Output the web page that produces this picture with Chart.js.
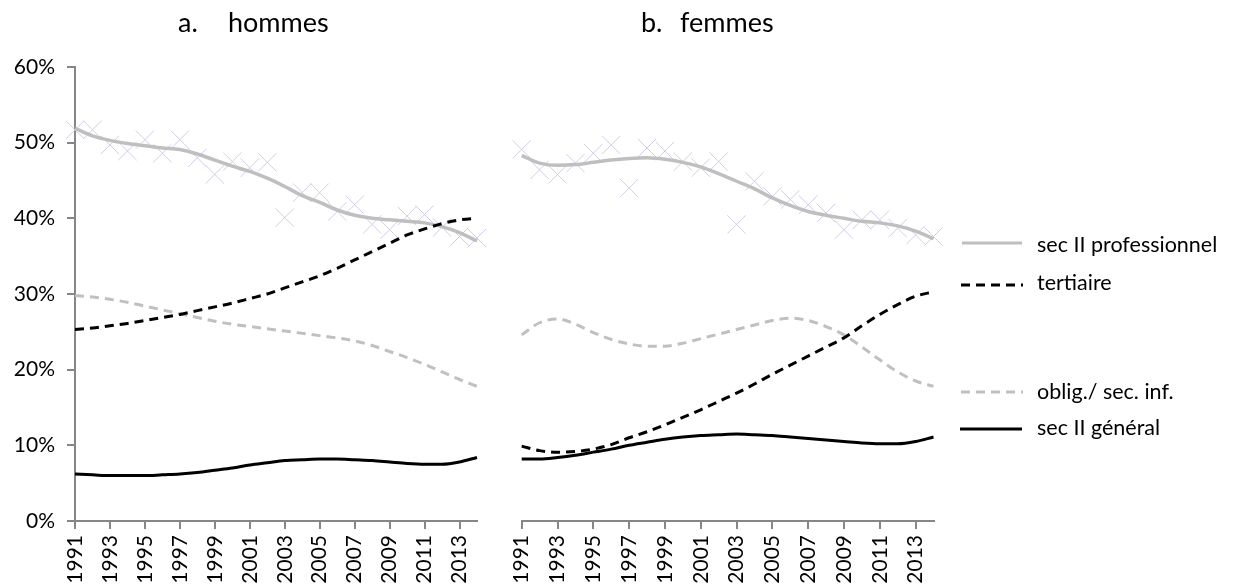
<!DOCTYPE html>
<html>
<head>
<meta charset="utf-8">
<script src="https://cdn.jsdelivr.net/npm/chart.js@4.4.1/dist/chart.umd.min.js"></script>
<style>
  html, body { margin: 0; padding: 0; background: #fff; }
  #wrap { position: relative; width: 1233px; height: 587px; overflow: hidden; font-family: Lato, "Open Sans", sans-serif; color: #000; }
  canvas { position: absolute; top: 0; }
  .t { position: absolute; font-size: 27px; line-height: 27px; white-space: nowrap; }
  .lg { position: absolute; left: 1037px; font-size: 21.5px; line-height: 24px; white-space: nowrap; }
  svg { position: absolute; left: 0; top: 0; }
</style>
</head>
<body>
<div id="wrap">
  <canvas id="c1" width="497" height="587" style="left:0px;width:497px;height:587px"></canvas>
  <canvas id="c2" width="460" height="587" style="left:490px;width:460px;height:587px"></canvas>
  <div class="t" style="left:178px;top:8px">a.</div>
  <div class="t" style="left:228px;top:8px">hommes</div>
  <div class="t" style="left:641px;top:8px">b.</div>
  <div class="t" style="left:680px;top:8px">femmes</div>
  <svg width="1233" height="587">
    <line x1="962" y1="243" x2="1022" y2="243" stroke="#bfbfbf" stroke-width="3"/>
    <line x1="961" y1="285" x2="1023" y2="285" stroke="#000" stroke-width="3" stroke-dasharray="9,6"/>
    <line x1="961" y1="392" x2="1023" y2="392" stroke="#c0c0c0" stroke-width="3" stroke-dasharray="9,6"/>
    <line x1="960" y1="429" x2="1022" y2="429" stroke="#000" stroke-width="3"/>
  </svg>
  <div class="lg" style="top:232px">sec II professionnel</div>
  <div class="lg" style="top:270px">tertiaire</div>
  <div class="lg" style="top:379px">oblig./ sec. inf.</div>
  <div class="lg" style="top:415px">sec II général</div>
</div>
<script>
const years = ['1991','1992','1993','1994','1995','1996','1997','1998','1999','2000','2001','2002','2003','2004','2005','2006','2007','2008','2009','2010','2011','2012','2013','2014'];
const yTicks = [0, 10, 20, 30, 40, 50, 60];

// hommes
const hProfPoints = [51.7,51.7,49.7,48.9,50.4,48.6,50.4,48.0,45.8,47.5,46.7,47.4,40.1,43.4,43.4,40.9,41.8,39.2,38.5,40.3,40.5,38.8,37.6,37.4];
const hProf = [51.9,50.9,50.3,49.9,49.6,49.3,49.1,48.5,47.7,46.9,46.2,45.3,44.2,43.0,42.1,41.1,40.4,40.0,39.8,39.6,39.4,38.9,38.1,37.0];
const hTert = [25.3,25.5,25.8,26.1,26.5,26.9,27.3,27.8,28.3,28.8,29.4,30.0,30.8,31.6,32.4,33.4,34.5,35.6,36.7,37.8,38.6,39.3,39.8,40.0];
const hObl = [29.8,29.6,29.3,28.9,28.4,27.9,27.4,26.9,26.4,26.0,25.7,25.4,25.1,24.8,24.5,24.2,23.8,23.2,22.4,21.6,20.7,19.7,18.7,17.8];
const hGen = [6.2,6.1,6.0,6.0,6.0,6.1,6.2,6.4,6.7,7.0,7.4,7.7,8.0,8.1,8.2,8.2,8.1,8.0,7.8,7.6,7.5,7.5,7.8,8.4];

// femmes
const fProfPoints = [49.1,46.4,45.8,47.3,48.6,49.7,44.0,49.3,48.9,47.5,46.7,47.5,39.2,44.9,42.9,42.5,41.8,40.7,38.5,39.8,39.8,38.7,37.8,37.6];
const fProf = [48.3,47.3,47.0,47.1,47.4,47.7,47.9,48.0,47.8,47.4,46.8,45.9,44.9,43.9,42.7,41.7,40.9,40.4,40.0,39.6,39.4,39.0,38.3,37.3];
const fTert = [9.9,9.3,9.1,9.2,9.5,10.1,11.0,11.8,12.7,13.7,14.7,15.8,16.9,18.1,19.4,20.6,21.8,23.0,24.2,25.8,27.3,28.6,29.7,30.3];
const fObl = [24.6,26.2,26.7,26.0,24.9,24.0,23.4,23.1,23.1,23.5,24.1,24.7,25.3,25.9,26.5,26.8,26.5,25.7,24.6,23.0,21.3,19.7,18.5,17.8];
const fGen = [8.2,8.2,8.4,8.7,9.1,9.5,10.0,10.4,10.8,11.1,11.3,11.4,11.5,11.4,11.3,11.1,10.9,10.7,10.5,10.3,10.2,10.2,10.5,11.1];

Chart.defaults.font.family = 'Lato, "Open Sans", sans-serif';
Chart.defaults.color = '#000';

const AXIS = '#868686';

function datasets(pts, prof, tert, obl, gen) {
  const base = { cubicInterpolationMode: 'monotone', pointRadius: 0, fill: false, borderCapStyle: 'butt' };
  return [
    { label: 'points', data: pts, showLine: false, pointStyle: 'crossRot', pointRadius: 13, pointBorderColor: '#d3cce8', pointBackgroundColor: 'transparent', pointBorderWidth: 1, borderColor: '#d3cce8', order: 10 },
    Object.assign({ label: 'sec II professionnel', data: prof, borderColor: '#bfbfbf', borderWidth: 3.5, order: 9 }, base),
    Object.assign({ label: 'oblig./ sec. inf.', data: obl, borderColor: '#c0c0c0', borderWidth: 3, borderDash: [9, 6], order: 8 }, base),
    Object.assign({ label: 'tertiaire', data: tert, borderColor: '#000', borderWidth: 3, borderDash: [9, 6], order: 7 }, base),
    Object.assign({ label: 'sec II général', data: gen, borderColor: '#000', borderWidth: 3, order: 6 }, base)
  ];
}

function xScale() {
  return {
    type: 'category',
    offset: false,
    border: { display: true, color: AXIS, width: 2 },
    grid: {
      drawOnChartArea: false, drawTicks: true, tickLength: 8, lineWidth: 2,
      tickColor: (ctx) => (ctx.index % 2 === 0 ? AXIS : 'rgba(0,0,0,0)'),
      color: (ctx) => (ctx.index % 2 === 0 ? AXIS : 'rgba(0,0,0,0)')
    },
    ticks: {
      autoSkip: false, maxRotation: 90, minRotation: 90, padding: 6,
      font: { size: 21 }, color: '#000',
      callback: function (v, i) { return i % 2 === 0 ? this.getLabelForValue(v) : ''; }
    },
    afterFit: (s) => { s.height = 66; s.paddingLeft = 0; s.paddingRight = 0; }
  };
}

function yScale(show) {
  return {
    type: 'linear', min: 0, max: 60,
    display: show,
    afterBuildTicks: (s) => { s.ticks = yTicks.map(v => ({ value: v })); },
    border: { display: show, color: AXIS, width: 2 },
    grid: { drawOnChartArea: false, drawTicks: true, tickLength: 8, lineWidth: 2, color: AXIS },
    ticks: { padding: 12, font: { size: 21 }, color: '#000', callback: (v) => v + '%' },
    afterFit: (s) => { if (show) s.width = 75; s.paddingTop = 0; s.paddingBottom = 0; }
  };
}

function make(id, data, showY, pad) {
  new Chart(document.getElementById(id), {
    type: 'line',
    data: { labels: years, datasets: data },
    options: {
      responsive: false, animation: false, events: [],
      layout: { padding: pad },
      plugins: { legend: { display: false }, tooltip: { enabled: false }, title: { display: false } },
      scales: { x: xScale(), y: yScale(showY) }
    }
  });
}

make('c1', datasets(hProfPoints, hProf, hTert, hObl, hGen), true, { left: 0, top: 67, right: 20, bottom: 0 });
make('c2', datasets(fProfPoints, fProf, fTert, fObl, fGen), false, { left: 31.7, top: 67, right: 16.5, bottom: 0 });
</script>
</body>
</html>
